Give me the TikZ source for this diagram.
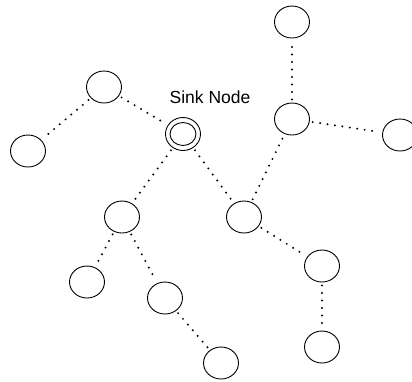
\documentclass[tikz,border=0pt]{standalone}
\usepackage{fontspec}
\setmainfont{Liberation Sans}
\usetikzlibrary{shapes.geometric}
\begin{document}
\begin{tikzpicture}[x=1pt,y=-1pt,
  nd/.style={draw,ellipse,line width=0.9pt,minimum width=35pt,minimum height=32pt,inner sep=0pt},
  link/.style={line width=2.2pt,line cap=round,dash pattern=on 0pt off 7.5pt,shorten >=3pt,shorten <=3pt}]
\useasboundingbox (0,0) rectangle (412,381);
\node[nd] (t) at (292,22) {};
\node[nd] (m) at (292,119) {};
\node[nd] (r) at (400,135) {};
\node[nd] (tl) at (104,87) {};
\node[nd] (fl) at (28,151) {};
\node[nd,minimum height=33pt] (s) at (183,134) {};
\draw[line width=0.9pt] (s.center) ellipse (13pt and 11.5pt);
\node[nd] (a) at (122,217) {};
\node[nd] (b) at (244,217) {};
\node[nd] (c) at (87,282) {};
\node[nd] (d) at (165,298) {};
\node[nd] (e) at (221,363) {};
\node[nd] (f) at (322,266) {};
\node[nd] (g) at (322,347) {};
\node[font=\fontsize{17.5pt}{20pt}\selectfont,inner sep=0pt] (lbl) at (210,97) {Sink Node};
\draw[link] (tl) -- (fl);
\draw[link] (tl) -- (s);
\draw[link] (s) -- (a);
\draw[link] (s) -- (b);
\draw[link] (a) -- (c);
\draw[link] (a) -- (d);
\draw[link] (d) -- (e);
\draw[link] (b) -- (m);
\draw[link] (m) -- (t);
\draw[link] (m) -- (r);
\draw[link] (b) -- (f);
\draw[link] (f) -- (g);
\end{tikzpicture}
\end{document}
